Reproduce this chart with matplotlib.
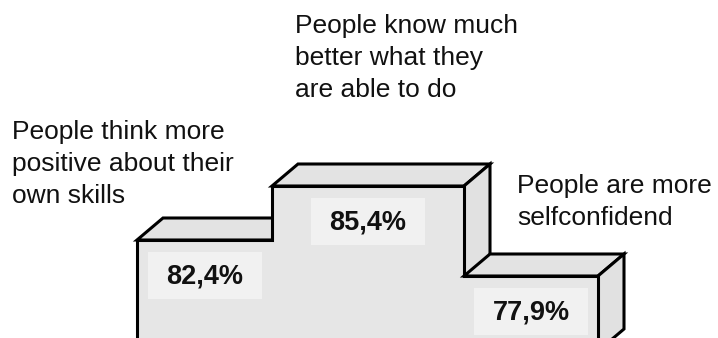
import matplotlib.pyplot as plt
from matplotlib.patches import Polygon, Rectangle

# data
statements = [
    "People think more\npositive about their\nown skills",
    "People know much\nbetter what they\nare able to do",
    "People are more\nselfconfidend",
]
shares = [82.4, 85.4, 77.9]
# podium step heights (the steps are not drawn to scale in the original)
step_heights = [101, 155, 65]

# layout, in pixel-like units of a 718 x 338 canvas
BLOCK_LEFT = 137
BLOCK_WIDTHS = [135, 192, 134]
DEPTH_X = 26
DEPTH_Y = 22
BASE = 0
FRONT = "#e6e6e6"
TOP = "#e3e3e3"
SIDE = "#e1e1e1"
LABEL_BG = "#f1f1f1"
EDGE_LW = 2.2

# where each statement text starts (left x, top y)
text_pos = [(12, 221), (295, 327), (517, 167)]

plt.rcParams["font.family"] = ["Liberation Sans", "DejaVu Sans"]

fig = plt.figure(figsize=(7.18, 3.38), dpi=100)
ax = fig.add_axes([0, 0, 1, 1])
ax.set_xlim(0, 718)
ax.set_ylim(3, 341)
ax.axis("off")

edges = [BLOCK_LEFT]
for w in BLOCK_WIDTHS:
    edges.append(edges[-1] + w)

outline_x = [edges[0]]
outline_y = [BASE - 10]
z = 1
for i, h in enumerate(step_heights):
    x0, x1 = edges[i], edges[i + 1]
    front = Rectangle((x0, BASE - 10), x1 - x0, h - BASE + 10,
                      facecolor=FRONT, edgecolor="none", zorder=z)
    top = Polygon([(x0, h), (x1, h), (x1 + DEPTH_X, h + DEPTH_Y),
                   (x0 + DEPTH_X, h + DEPTH_Y)],
                  closed=True, facecolor=TOP, edgecolor="black",
                  linewidth=EDGE_LW, joinstyle="miter", zorder=z)
    side = Polygon([(x1, BASE - 10), (x1, h), (x1 + DEPTH_X, h + DEPTH_Y),
                    (x1 + DEPTH_X, BASE - 10 + DEPTH_Y)],
                   closed=True, facecolor=SIDE, edgecolor="black",
                   linewidth=EDGE_LW, joinstyle="miter", zorder=z)
    ax.add_patch(top)
    ax.add_patch(side)
    ax.add_patch(front)
    z += 1

    outline_x += [x0, x1]
    outline_y += [h, h]

    cx = (x0 + x1) / 2
    cy = h - 36
    ax.add_patch(Rectangle((cx - 57, cy - 23), 114, 47,
                           facecolor=LABEL_BG, edgecolor="none", zorder=20))
    label = f"{shares[i]:.1f}%".replace(".", ",")
    ax.text(cx, cy, label, ha="center", va="center", fontsize=19.5,
            fontweight="bold", color="#111111", zorder=21)

outline_x.append(edges[-1])
outline_y.append(BASE - 10)
ax.plot(outline_x, outline_y, color="black", linewidth=EDGE_LW,
        solid_joinstyle="miter", zorder=19)

for (tx, ty), s in zip(text_pos, statements):
    ax.text(tx, ty, s, ha="left", va="top", fontsize=19,
            linespacing=1.42, color="#111111")

fig.savefig("out.png", dpi=100)
